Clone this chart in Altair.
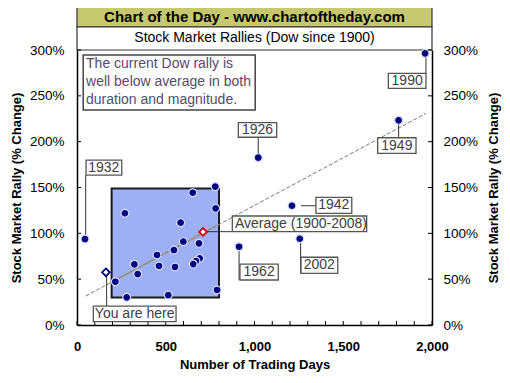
import altair as alt
import pandas as pd

# ---------------- data ----------------
rally_days = [45, 270, 652, 779, 781, 584, 687, 599, 546, 451, 323, 462, 552, 691,
              670, 655, 342, 216, 280, 514, 789, 1021, 1812, 1211, 1255, 913, 1961]
rally_pct = [93.8, 121.9, 144.3, 150.9, 127.3, 111.6, 89.1, 90.9, 81.8, 76.4, 66.2,
             64.4, 63.3, 72.8, 69.8, 66.5, 55.6, 47.2, 30.2, 32.7, 38.2, 182.5,
             223.3, 130.1, 94.1, 85.4, 296.4]
avg_days, avg_pct = [710], [101.5]
current_days, current_pct = [163], [57.5]
trend_days = [49, 1966]
trend_pct = [31.6, 230.9]
trend_box_days = [195, 800]
trend_box_pct = [46.8, 109.7]
box_days = [195, 800]
box_pct = [30, 149]

x_ticks = [0, 500, 1000, 1500, 2000]
x_minor = list(range(0, 2001, 100))
y_ticks = [0, 50, 100, 150, 200, 250, 300]

title_text = "Chart of the Day - www.chartoftheday.com"
subtitle_text = "Stock Market Rallies (Dow since 1900)"
note_lines = ["The current Dow rally is", "well below average in both",
              "duration and magnitude."]

# label annotations: text, box (x1,x2,y1,y2), text anchor, leader (x1,y1,x2,y2)
labels = [
    dict(t="1932", bx1=51, bx2=252, by1=163.5, by2=179.8, tx=151, ty=171.6, align="center",
         lx1=49, ly1=97, lx2=49, ly2=163.5),
    dict(t="1926", bx1=909, bx2=1125, by1=204.8, by2=220.7, tx=1017, ty=212.7, align="center",
         lx1=1021, ly1=186, lx2=1021, ly2=204.8),
    dict(t="1990", bx1=1754, bx2=1966, by1=258.2, by2=274.6, tx=1860, ty=266.4, align="center",
         lx1=1966, ly1=293, lx2=1966, ly2=274.6),
    dict(t="1949", bx1=1694, bx2=1910, by1=187.3, by2=204.3, tx=1802, ty=195.8, align="center",
         lx1=1812, ly1=219, lx2=1812, ly2=204.3),
    dict(t="1942", bx1=1346, bx2=1548, by1=121.8, by2=139.3, tx=1447, ty=130.5, align="center",
         lx1=1262, ly1=130.1, lx2=1346, ly2=130.1),
    dict(t="2002", bx1=1262, bx2=1469, by1=56.4, by2=73.9, tx=1365, ty=65.1, align="center",
         lx1=1260, ly1=90, lx2=1260, ly2=56.4),
    dict(t="1962", bx1=918, bx2=1134, by1=49.1, by2=66.5, tx=1026, ty=57.8, align="center",
         lx1=913, ly1=82, lx2=913, ly2=49.1),
    dict(t="Average (1900-2008)", bx1=875, bx2=1632, by1=101.8, by2=118.9, tx=890, ty=110.3,
         align="left", lx1=725, ly1=101.8, lx2=875, ly2=101.8),
    dict(t="You are here", bx1=92, bx2=558, by1=3.6, by2=20.7, tx=325, ty=12.2, align="center",
         lx1=167, ly1=54, lx2=167, ly2=20.7),
]
note_box = dict(bx1=35, bx2=1004, by1=234.5, by2=294.5)
note_x = [51, 51, 51]
note_y = [284.7, 264.7, 245.5]

# ---------------- build ----------------
W, H = 355, 275
FONT = "Liberation Sans"

pts = pd.DataFrame({"d": rally_days, "p": rally_pct})
lab = pd.DataFrame(labels)
xs = alt.Scale(domain=[0, 2000], nice=False, zero=False)
ys = alt.Scale(domain=[0, 300], nice=False, zero=False)

x_axis = alt.Axis(
    values=x_ticks, format=",d", title="Number of Trading Days", ticks=False,
    tickSize=0, grid=False, domainColor="#000", domainWidth=1.5, labelFlush=False,
    labelFont=FONT, labelFontSize=13, labelFontWeight="bold", labelColor="#000",
    labelPadding=15, titleFont=FONT, titleFontSize=13, titleFontWeight="bold",
    titleColor="#000", titlePadding=5)

X = lambda f: alt.X(f, type="quantitative", scale=xs, axis=x_axis)
Y = lambda f: alt.Y(f, type="quantitative", scale=ys, axis=None)

box = alt.Chart(pd.DataFrame({"x1": [box_days[0]], "x2": [box_days[1]],
                              "y1": [box_pct[0]], "y2": [box_pct[1]]})).mark_rect(
    fill="#9DB0F5", stroke="#1a1a1a", strokeWidth=2
).encode(x=X("x1"), x2="x2", y=Y("y1"), y2="y2")

trend = alt.Chart(pd.DataFrame({"d": trend_days, "p": trend_pct})).mark_line(
    color="#7a7a7a", strokeWidth=1, strokeDash=[4, 2]
).encode(x=X("d"), y=Y("p"))
trend_in = alt.Chart(pd.DataFrame({"d": trend_box_days, "p": trend_box_pct})).mark_line(
    color="#9C8A50", strokeWidth=1.2, strokeDash=[4, 1]
).encode(x=X("d"), y=Y("p"))

points = alt.Chart(pts).mark_circle(
    size=62, color="#000080", opacity=1, stroke="#D6DDFF", strokeWidth=1.2
).encode(
    x=X("d:Q"),
    y=alt.Y("p:Q", scale=ys, axis=alt.Axis(
        values=y_ticks, labelExpr="datum.value + '%'", title="Stock Market Rally (% Change)",
        ticks=False, tickSize=0, grid=False, domainColor="#000", domainWidth=1.5,
        labelFlush=False,
        orient="left", labelFont=FONT, labelFontSize=13.5, labelColor="#000", labelPadding=13,
        titleFont=FONT, titleFontSize=13, titleFontWeight="bold", titleColor="#000",
        titlePadding=6)),
)

right_ticks = alt.Chart(pd.DataFrame({"p": y_ticks})).mark_rule(color="#000").encode(
    y=alt.Y("p:Q", scale=ys, axis=alt.Axis(
        values=y_ticks, labelExpr="datum.value + '%'", title="Stock Market Rally (% Change)",
        ticks=False, tickSize=0, grid=False, domainColor="#000", domainWidth=1.5,
        labelFlush=False,
        orient="right", labelFont=FONT, labelFontSize=13.5, labelColor="#000", labelPadding=11,
        titleFont=FONT, titleFontSize=13, titleFontWeight="bold", titleColor="#000",
        titlePadding=10, titleAngle=270, titleBaseline="top")),
    x=alt.value(W - 4), x2=alt.value(W),
)
left_ticks = alt.Chart(pd.DataFrame({"p": y_ticks})).mark_rule(color="#000").encode(
    y=Y("p:Q"), x=alt.value(0), x2=alt.value(4))
bottom_ticks = alt.Chart(pd.DataFrame({"d": x_minor})).mark_rule(color="#000").encode(
    x=X("d:Q"), y=alt.value(H), y2=alt.value(H - 4))

avg = alt.Chart(pd.DataFrame({"d": avg_days, "p": avg_pct})).mark_point(
    shape="diamond", size=60, filled=True, fill="white", stroke="#CC0000", strokeWidth=1.8,
    opacity=1).encode(x=X("d"), y=Y("p"))
cur = alt.Chart(pd.DataFrame({"d": current_days, "p": current_pct})).mark_point(
    shape="diamond", size=60, filled=True, fill="white", stroke="#000080", strokeWidth=1.8,
    opacity=1).encode(x=X("d"), y=Y("p"))

leaders = alt.Chart(lab).mark_rule(color="#333", strokeWidth=1).encode(
    x=X("lx1:Q"), x2="lx2:Q", y=Y("ly1:Q"), y2="ly2:Q")
label_boxes = alt.Chart(lab).mark_rect(fill="white", stroke="#555", strokeWidth=1.3).encode(
    x=X("bx1:Q"), x2="bx2:Q", y=Y("by1:Q"), y2="by2:Q")
lab_c = alt.Chart(lab[lab["align"] == "center"]).mark_text(
    font=FONT, fontSize=14, color="#404040", align="center", baseline="middle").encode(
    x=X("tx:Q"), y=Y("ty:Q"), text="t:N")
lab_l = alt.Chart(lab[lab["align"] == "left"]).mark_text(
    font=FONT, fontSize=14, color="#404040", align="left", baseline="middle").encode(
    x=X("tx:Q"), y=Y("ty:Q"), text="t:N")

note_rect = alt.Chart(pd.DataFrame([note_box])).mark_rect(
    fill="white", stroke="#444", strokeWidth=1.5).encode(
    x=X("bx1:Q"), x2="bx2:Q", y=Y("by1:Q"), y2="by2:Q")
note_text = alt.Chart(pd.DataFrame({"x": note_x, "y": note_y, "t": note_lines})).mark_text(
    font=FONT, fontSize=14, color="#574a6b", align="left", baseline="middle").encode(
    x=X("x:Q"), y=Y("y:Q"), text="t:N")

header_bg = alt.Chart(pd.DataFrame({"a": [0]})).mark_rect(
    fill="#C5C86E", stroke="#333", strokeWidth=1.2).encode(
    x=alt.value(0), x2=alt.value(W), y=alt.value(-43), y2=alt.value(-23))
sub_bg = alt.Chart(pd.DataFrame({"a": [0]})).mark_rect(
    fill="white", stroke="#333", strokeWidth=1.2).encode(
    x=alt.value(0), x2=alt.value(W), y=alt.value(-23), y2=alt.value(0))
header_t = alt.Chart(pd.DataFrame({"t": [title_text]})).mark_text(
    font=FONT, fontSize=15, fontWeight="bold", color="#000", align="center",
    baseline="middle").encode(x=alt.value(W / 2), y=alt.value(-33), text="t:N")
sub_t = alt.Chart(pd.DataFrame({"t": [subtitle_text]})).mark_text(
    font=FONT, fontSize=14, color="#000", align="center", baseline="middle").encode(
    x=alt.value(W / 2), y=alt.value(-12), text="t:N")

chart = alt.layer(
    header_bg, sub_bg, header_t, sub_t,
    box, trend, trend_in, leaders, points, right_ticks, left_ticks, bottom_ticks,
    avg, cur, label_boxes, lab_c, lab_l, note_rect, note_text,
).resolve_axis(y="independent").properties(
    width=W, height=H,
    autosize=alt.AutoSizeParams(type="none"),
    padding={"left": 69, "top": 42, "right": 70, "bottom": 50},
    background="white",
).configure_view(stroke=None)

chart.save("out.html", embed_options={"renderer": "svg", "actions": False})
